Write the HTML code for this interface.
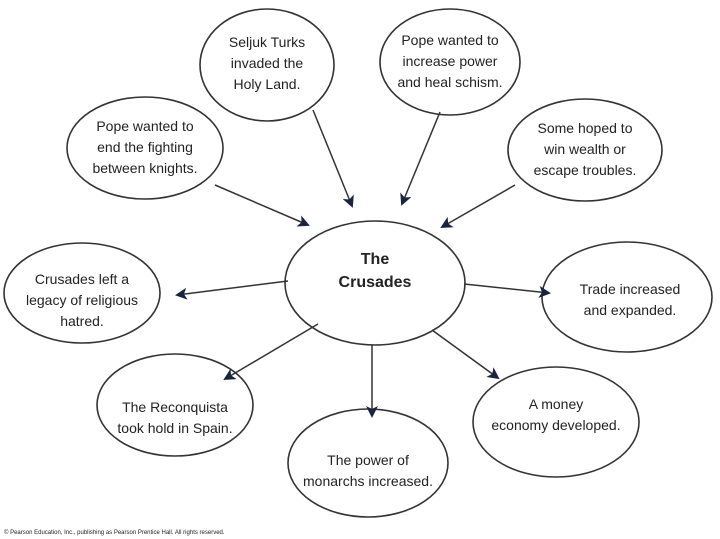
<!DOCTYPE html>
<html><head><meta charset="utf-8"><style>
html,body{margin:0;padding:0;background:#fff;}
svg{display:block}
text{font-family:"Liberation Sans",Arial,sans-serif;fill:#222;font-size:14px;text-anchor:middle}
</style></head><body>
<svg width="720" height="539" viewBox="0 0 720 539">
<defs><marker id="a" markerWidth="12" markerHeight="12" refX="10" refY="6" orient="auto" markerUnits="userSpaceOnUse"><path d="M0,0 L12,6 L0,12 L3,6 Z" fill="#1a2340"/></marker></defs>
<g fill="#fff" stroke="#333" stroke-width="1.6">
<ellipse cx="267" cy="65" rx="67" ry="56"/>
<ellipse cx="450" cy="62" rx="70" ry="53"/>
<ellipse cx="145" cy="148" rx="78" ry="51"/>
<ellipse cx="585" cy="150" rx="77" ry="51"/>
<ellipse cx="375" cy="283" rx="90" ry="62"/>
<ellipse cx="82" cy="293" rx="78" ry="50"/>
<ellipse cx="627" cy="297" rx="85" ry="55"/>
<ellipse cx="175" cy="405" rx="78" ry="51"/>
<ellipse cx="556" cy="422" rx="83" ry="55"/>
<ellipse cx="368" cy="463" rx="80" ry="54"/>
</g>
<g stroke="#333" stroke-width="1.5" marker-end="url(#a)">
<line x1="313" y1="110" x2="352" y2="206"/>
<line x1="440" y1="112" x2="402" y2="204"/>
<line x1="215" y1="185" x2="308" y2="225"/>
<line x1="515" y1="185" x2="442" y2="227"/>
<line x1="288" y1="281" x2="177" y2="295"/>
<line x1="464" y1="284" x2="549" y2="293"/>
<line x1="318" y1="324" x2="225" y2="379"/>
<line x1="372" y1="345" x2="372" y2="416"/>
<line x1="432" y1="330" x2="498" y2="378"/>
</g>
<text x="267" y="47">Seljuk Turks</text><text x="267" y="68">invaded the</text><text x="267" y="89">Holy Land.</text>
<text x="450" y="45">Pope wanted to</text><text x="450" y="66">increase power</text><text x="450" y="87">and heal schism.</text>
<text x="145" y="131">Pope wanted to</text><text x="145" y="152">end the fighting</text><text x="145" y="173">between knights.</text>
<text x="585" y="133">Some hoped to</text><text x="585" y="154">win wealth or</text><text x="585" y="175">escape troubles.</text>
<text x="375" y="264" style="font-weight:bold;font-size:16px">The</text><text x="375" y="287" style="font-weight:bold;font-size:16px">Crusades</text>
<text x="82" y="284">Crusades left a</text><text x="82" y="305">legacy of religious</text><text x="82" y="326">hatred.</text>
<text x="630" y="294">Trade increased</text><text x="630" y="315">and expanded.</text>
<text x="175" y="412">The Reconquista</text><text x="175" y="433">took hold in Spain.</text>
<text x="556" y="409">A money</text><text x="556" y="430">economy developed.</text>
<text x="368" y="465">The power of</text><text x="368" y="486">monarchs increased.</text>
<text x="4" y="534" style="font-size:6px;text-anchor:start">© Pearson Education, Inc., publishing as Pearson Prentice Hall. All rights reserved.</text>
</svg>
</body></html>
